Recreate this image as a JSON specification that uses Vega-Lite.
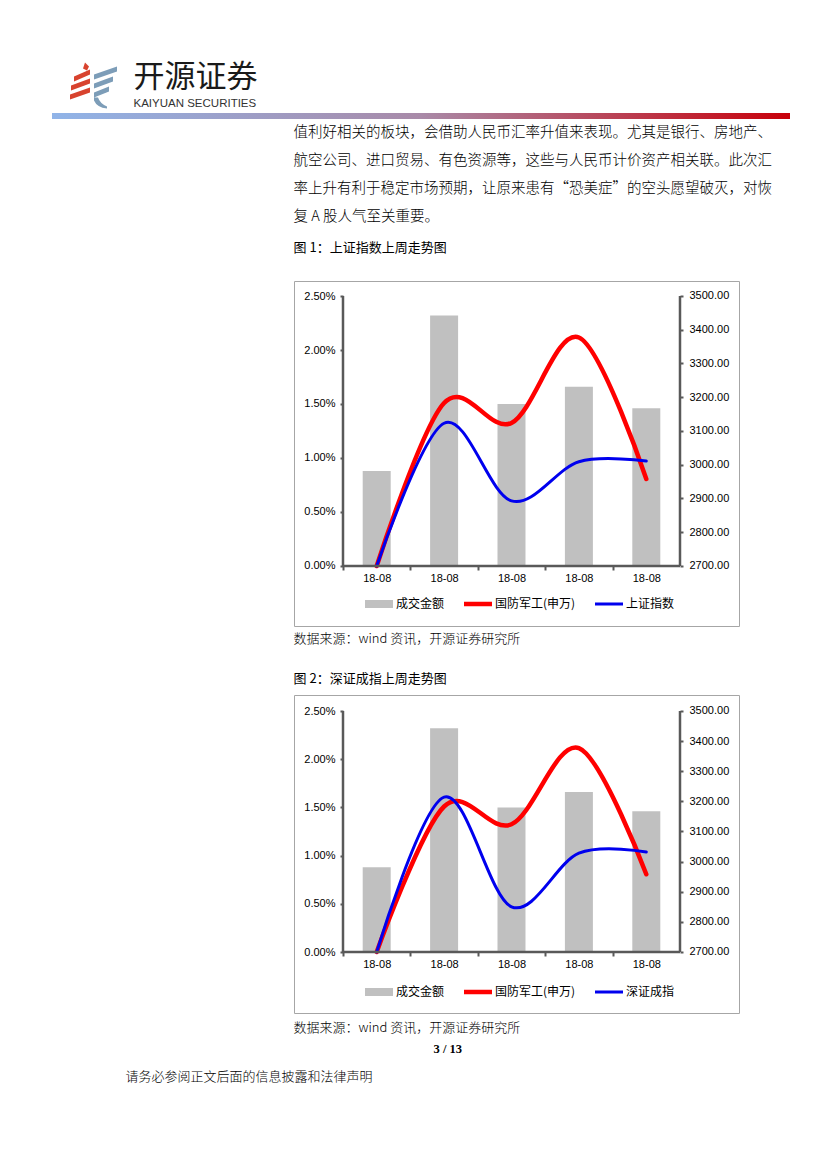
{
  "$schema": "https://vega.github.io/schema/vega-lite/v6.json",
  "background": "white",
  "padding": {"left": 0, "top": 62, "right": 0, "bottom": 0},
  "spacing": 0,
  "config": {"view": {"stroke": null}, "concat": {"spacing": 0}},
  "resolve": {"scale": {"color": "independent"}, "legend": {"color": "independent"}},
  "vconcat": [
    {
      "hconcat": [
        {"width": 70, "height": 51, "data": {"values": []}, "mark": "text"},
        {
          "width": 48, "height": 51, "data": {"values": [{}]},
          "layer": [
            {"mark": {"type": "point", "shape": "M-11,-19L-9,-25L-5,-21L-7,-17Z M-20,-11L-4,-18L-4,-13L-20,-6Z M-23,-2L-4,-9L-4,-4L-23,3Z M-24,7L-4,0L-4,5L-24,12Z", "filled": true, "color": "#d8432e", "size": 4, "opacity": 1, "strokeWidth": 0}, "encoding": {}},
            {"mark": {"type": "point", "shape": "M0,-13L23,-21L23,-16L0,-8Z M0,-4L19,-11L19,-6L0,1Z M0,5L15,-1L15,4L0,10Z M0,10L4,10Q6,16 13,19L13,21Q3,20 0,13Z", "filled": true, "color": "#7d9db8", "size": 4, "opacity": 1, "strokeWidth": 0}, "encoding": {}}
          ]
        },
        {"width": 15, "height": 51, "data": {"values": []}, "mark": "text"},
        {
          "width": 1, "height": 51,
          "data": {"values": [{"t": "开源证券", "k": "cn"}, {"t": "KAIYUAN SECURITIES", "k": "en"}]},
          "layer": [
            {"transform": [{"filter": "datum.k === 'cn'"}], "mark": {"type": "text", "align": "left", "baseline": "middle", "font": "Noto Sans CJK SC", "fontSize": 31, "dy": -9.5, "color": "#1a1a1a"}, "encoding": {"text": {"field": "t"}}},
            {"transform": [{"filter": "datum.k === 'en'"}], "mark": {"type": "text", "align": "left", "baseline": "middle", "font": "Liberation Sans", "fontSize": 11.5, "dy": 16, "color": "#333333"}, "encoding": {"text": {"field": "t"}}}
          ]
        }
      ],
      "spacing": 0
    },
    {
      "hconcat": [
        {"width": 52, "height": 6, "data": {"values": []}, "mark": "text"},
        {"width": 738, "height": 6, "data": {"values": [{}]}, "mark": {"type": "rect", "color": {"gradient": "linear", "x1": 0, "y1": 0, "x2": 1, "y2": 0, "stops": [{"offset": 0, "color": "#90b4e8"}, {"offset": 0.5, "color": "#a98aa8"}, {"offset": 1, "color": "#c8000a"}]}}, "encoding": {}}
      ],
      "spacing": 0
    },
    {
      "hconcat": [
        {"width": 293, "height": 112, "data": {"values": []}, "mark": "text"},
        {
          "width": 1, "height": 112,
          "data": {"values": [
            {"line": 1, "text": "值利好相关的板块，会借助人民币汇率升值来表现。尤其是银行、房地产、"},
            {"line": 2, "text": "航空公司、进口贸易、有色资源等，这些与人民币计价资产相关联。此次汇"},
            {"line": 3, "text": "率上升有利于稳定市场预期，让原来患有“恐美症”的空头愿望破灭，对恢"},
            {"line": 4, "text": "复 A 股人气至关重要。"}
          ]},
          "mark": {"type": "text", "align": "left", "baseline": "middle", "font": "Noto Sans CJK SC", "fontSize": 14.5, "fontWeight": 300, "color": "#000000"},
          "encoding": {"y": {"field": "line", "type": "ordinal", "axis": null}, "text": {"field": "text"}}
        }
      ],
      "spacing": 0
    },
    {
      "hconcat": [
        {"width": 293, "height": 34, "data": {"values": []}, "mark": "text"},
        {"width": 1, "height": 34, "data": {"values": [{"t": "图 1：上证指数上周走势图"}]}, "mark": {"type": "text", "align": "left", "baseline": "middle", "font": "Noto Sans CJK SC", "fontSize": 13, "color": "#000000"}, "encoding": {"text": {"field": "t"}}}
      ],
      "spacing": 0
    },
    {"width": 1, "height": 15, "data": {"values": []}, "mark": "text"},
    {
      "hconcat": [
        {"width": 293, "height": 1, "data": {"values": []}, "mark": "text"},
        {
          "width": 445, "height": 345,
          "view": {"stroke": "#a6a6a6", "strokeWidth": 1, "fill": "white"},
          "data": {"values": [
            {"date": "2018-08-13", "series": "成交金额", "value": 0.0088},
            {"date": "2018-08-14", "series": "成交金额", "value": 0.0232},
            {"date": "2018-08-15", "series": "成交金额", "value": 0.0150},
            {"date": "2018-08-16", "series": "成交金额", "value": 0.0166},
            {"date": "2018-08-17", "series": "成交金额", "value": 0.0146},
            {"date": "2018-08-13", "series": "国防军工(申万)", "value": 2700},
            {"date": "2018-08-14", "series": "国防军工(申万)", "value": 3183},
            {"date": "2018-08-15", "series": "国防军工(申万)", "value": 3124},
            {"date": "2018-08-16", "series": "国防军工(申万)", "value": 3377},
            {"date": "2018-08-17", "series": "国防军工(申万)", "value": 2958},
            {"date": "2018-08-13", "series": "上证指数", "value": 2700},
            {"date": "2018-08-14", "series": "上证指数", "value": 3123},
            {"date": "2018-08-15", "series": "上证指数", "value": 2893},
            {"date": "2018-08-16", "series": "上证指数", "value": 3009},
            {"date": "2018-08-17", "series": "上证指数", "value": 3011}
          ]},
          "resolve": {"scale": {"y": "independent"}},
          "layer": [
            {
              "transform": [{"filter": "datum.series === '成交金额'"}],
              "mark": {"type": "bar", "size": 28},
              "encoding": {
                "x": {"field": "date", "type": "temporal", "scale": {"domain": [1534012387200, 1534582834560], "nice": false, "padding": 0},
                  "axis": {"orient": "bottom", "offset": -60, "values": [1534118400000, 1534204800000, 1534291200000, 1534377600000, 1534464000000], "format": "%y-%m", "tickOffset": -33.7, "labelOffset": 33.7, "domain": false, "grid": false, "ticks": true, "tickSize": 4, "tickWidth": 2, "tickColor": "#595959", "labelPadding": 2, "labelFont": "Liberation Sans", "labelFontSize": 11, "labelColor": "#000000", "labelFlush": false, "labelOverlap": false, "title": null}},
                "y": {"field": "value", "type": "quantitative", "scale": {"domain": [-0.0055556, 0.0263889], "nice": false, "zero": false, "padding": 0},
                  "axis": {"orient": "left", "offset": -49, "values": [0, 0.005, 0.01, 0.015, 0.02, 0.025], "format": ".2%", "domain": false, "grid": false, "tickSize": 3, "tickWidth": 2, "tickColor": "#595959", "labelPadding": 5, "labelFont": "Liberation Sans", "labelFontSize": 11, "labelColor": "#000000", "labelFlush": false, "labelOverlap": false, "title": null}},
                "color": {"field": "series", "type": "nominal", "scale": {"domain": ["成交金额", "国防军工(申万)", "上证指数"], "range": ["#c0c0c0", "#ff0000", "#0000ee"]},
                  "legend": {"title": null, "orient": "none", "legendX": 365, "legendY": 309, "direction": "horizontal", "symbolSize": 784, "labelFont": "Noto Sans CJK SC", "labelFontSize": 12, "labelColor": "#000000", "labelOffset": 3, "columnPadding": 19, "padding": 0,
                    "encode": {"symbols": {"update": {
                      "shape": {"signal": "datum.value === '成交金额' ? 'M-1,-0.29L1,-0.29L1,0.29L-1,0.29Z M0,-1L0,-1 M0,1L0,1' : datum.value === '国防军工(申万)' ? 'M-1,-0.16L1,-0.16L1,0.16L-1,0.16Z M0,-1L0,-1 M0,1L0,1' : 'M-1,-0.11L1,-0.11L1,0.11L-1,0.11Z M0,-1L0,-1 M0,1L0,1'"},
                      "fill": {"signal": "datum.value === '成交金额' ? '#c0c0c0' : datum.value === '国防军工(申万)' ? '#ff0000' : '#0000ee'"},
                      "stroke": {"value": "transparent"}, "strokeWidth": {"value": 0}, "opacity": {"value": 1}, "fillOpacity": {"value": 1}}}}}}
              }
            },
            {
              "layer": [
                {
                  "transform": [{"filter": "datum.series === '国防军工(申万)'"}],
                  "mark": {"type": "line", "interpolate": "cardinal", "strokeWidth": 4.5, "strokeCap": "round"},
                  "encoding": {
                    "x": {"field": "date", "type": "temporal", "scale": {"domain": [1534012387200, 1534582834560], "nice": false, "padding": 0}},
                    "y": {"field": "value", "type": "quantitative", "scale": {"domain": [2522.22, 3544.44], "nice": false, "zero": false, "padding": 0},
                      "axis": {"orient": "right", "offset": -59, "values": [2700, 2800, 2900, 3000, 3100, 3200, 3300, 3400, 3500], "tickCount": 9, "format": ".2f", "domain": false, "grid": false, "tickSize": 3, "tickWidth": 2, "tickColor": "#595959", "labelPadding": 6, "labelFont": "Liberation Sans", "labelFontSize": 11, "labelColor": "#000000", "labelFlush": false, "labelOverlap": false, "title": null}},
                    "color": {"field": "series", "type": "nominal"}
                  }
                },
                {
                  "transform": [{"filter": "datum.series === '上证指数'"}],
                  "mark": {"type": "line", "interpolate": "cardinal", "strokeWidth": 3, "strokeCap": "round"},
                  "encoding": {
                    "x": {"field": "date", "type": "temporal"},
                    "y": {"field": "value", "type": "quantitative",
                      "axis": {"orient": "right", "offset": -59, "values": [2700, 2800, 2900, 3000, 3100, 3200, 3300, 3400, 3500], "tickCount": 9, "format": ".2f", "domain": false, "grid": false, "tickSize": 3, "tickWidth": 2, "tickColor": "#595959", "labelPadding": 6, "labelFont": "Liberation Sans", "labelFontSize": 11, "labelColor": "#000000", "labelFlush": false, "labelOverlap": false, "title": null}},
                    "color": {"field": "series", "type": "nominal"}
                  }
                },
                {
                  "data": {"values": [{}]},
                  "mark": {"type": "rule", "color": "#595959", "strokeWidth": 2.5},
                  "encoding": {"x": {"datum": 1534075200000, "type": "temporal"}, "y": {"datum": 2700, "type": "quantitative"}, "y2": {"datum": 3500}}
                },
                {
                  "data": {"values": [{}]},
                  "mark": {"type": "rule", "color": "#595959", "strokeWidth": 2.5},
                  "encoding": {"x": {"datum": 1534507200000, "type": "temporal"}, "y": {"datum": 2700, "type": "quantitative"}, "y2": {"datum": 3500}}
                },
                {
                  "data": {"values": [{}]},
                  "mark": {"type": "rule", "color": "#595959", "strokeWidth": 2.5},
                  "encoding": {"x": {"datum": 1534075200000, "type": "temporal"}, "x2": {"datum": 1534507200000}, "y": {"datum": 2700, "type": "quantitative"}}
                }
              ]
            }
          ]
        }
      ],
      "spacing": 0
    },
    {
      "hconcat": [
        {"width": 293, "height": 23, "data": {"values": []}, "mark": "text"},
        {"width": 1, "height": 23, "data": {"values": [{"t": "数据来源：wind 资讯，开源证券研究所"}]}, "mark": {"type": "text", "align": "left", "baseline": "middle", "font": "Noto Sans CJK SC", "fontSize": 13, "fontWeight": 300, "color": "#000000"}, "encoding": {"text": {"field": "t"}}}
      ],
      "spacing": 0
    },
    {"width": 1, "height": 13, "data": {"values": []}, "mark": "text"},
    {
      "hconcat": [
        {"width": 293, "height": 31, "data": {"values": []}, "mark": "text"},
        {"width": 1, "height": 31, "data": {"values": [{"t": "图 2：深证成指上周走势图"}]}, "mark": {"type": "text", "align": "left", "baseline": "middle", "font": "Noto Sans CJK SC", "fontSize": 13, "color": "#000000"}, "encoding": {"text": {"field": "t"}}}
      ],
      "spacing": 0
    },
    {
      "hconcat": [
        {"width": 293, "height": 1, "data": {"values": []}, "mark": "text"},
        {
          "width": 445, "height": 318,
          "view": {"stroke": "#a6a6a6", "strokeWidth": 1, "fill": "white"},
          "data": {"values": [
            {"date": "2018-08-13", "series": "成交金额", "value": 0.0088},
            {"date": "2018-08-14", "series": "成交金额", "value": 0.0232},
            {"date": "2018-08-15", "series": "成交金额", "value": 0.0150},
            {"date": "2018-08-16", "series": "成交金额", "value": 0.0166},
            {"date": "2018-08-17", "series": "成交金额", "value": 0.0146},
            {"date": "2018-08-13", "series": "国防军工(申万)", "value": 2700},
            {"date": "2018-08-14", "series": "国防军工(申万)", "value": 3183},
            {"date": "2018-08-15", "series": "国防军工(申万)", "value": 3124},
            {"date": "2018-08-16", "series": "国防军工(申万)", "value": 3377},
            {"date": "2018-08-17", "series": "国防军工(申万)", "value": 2958},
            {"date": "2018-08-13", "series": "深证成指", "value": 2700},
            {"date": "2018-08-14", "series": "深证成指", "value": 3214},
            {"date": "2018-08-15", "series": "深证成指", "value": 2850},
            {"date": "2018-08-16", "series": "深证成指", "value": 3028},
            {"date": "2018-08-17", "series": "深证成指", "value": 3032}
          ]},
          "resolve": {"scale": {"y": "independent"}},
          "layer": [
            {
              "transform": [{"filter": "datum.series === '成交金额'"}],
              "mark": {"type": "bar", "size": 28},
              "encoding": {
                "x": {"field": "date", "type": "temporal", "scale": {"domain": [1534012387200, 1534582834560], "nice": false, "padding": 0},
                  "axis": {"orient": "bottom", "offset": -61, "values": [1534118400000, 1534204800000, 1534291200000, 1534377600000, 1534464000000], "format": "%y-%m", "tickOffset": -33.7, "labelOffset": 33.7, "domain": false, "grid": false, "ticks": true, "tickSize": 4, "tickWidth": 2, "tickColor": "#595959", "labelPadding": 2, "labelFont": "Liberation Sans", "labelFontSize": 11, "labelColor": "#000000", "labelFlush": false, "labelOverlap": false, "title": null}},
                "y": {"field": "value", "type": "quantitative", "scale": {"domain": [-0.0063278, 0.0266598], "nice": false, "zero": false, "padding": 0},
                  "axis": {"orient": "left", "offset": -49, "values": [0, 0.005, 0.01, 0.015, 0.02, 0.025], "format": ".2%", "domain": false, "grid": false, "tickSize": 3, "tickWidth": 2, "tickColor": "#595959", "labelPadding": 5, "labelFont": "Liberation Sans", "labelFontSize": 11, "labelColor": "#000000", "labelFlush": false, "labelOverlap": false, "title": null}},
                "color": {"field": "series", "type": "nominal", "scale": {"domain": ["成交金额", "国防军工(申万)", "深证成指"], "range": ["#c0c0c0", "#ff0000", "#0000ee"]},
                  "legend": {"title": null, "orient": "none", "legendX": 365, "legendY": 283, "direction": "horizontal", "symbolSize": 784, "labelFont": "Noto Sans CJK SC", "labelFontSize": 12, "labelColor": "#000000", "labelOffset": 3, "columnPadding": 19, "padding": 0,
                    "encode": {"symbols": {"update": {
                      "shape": {"signal": "datum.value === '成交金额' ? 'M-1,-0.29L1,-0.29L1,0.29L-1,0.29Z M0,-1L0,-1 M0,1L0,1' : datum.value === '国防军工(申万)' ? 'M-1,-0.16L1,-0.16L1,0.16L-1,0.16Z M0,-1L0,-1 M0,1L0,1' : 'M-1,-0.11L1,-0.11L1,0.11L-1,0.11Z M0,-1L0,-1 M0,1L0,1'"},
                      "fill": {"signal": "datum.value === '成交金额' ? '#c0c0c0' : datum.value === '国防军工(申万)' ? '#ff0000' : '#0000ee'"},
                      "stroke": {"value": "transparent"}, "strokeWidth": {"value": 0}, "opacity": {"value": 1}, "fillOpacity": {"value": 1}}}}}}
              }
            },
            {
              "layer": [
                {
                  "transform": [{"filter": "datum.series === '国防军工(申万)'"}],
                  "mark": {"type": "line", "interpolate": "cardinal", "strokeWidth": 4.5, "strokeCap": "round"},
                  "encoding": {
                    "x": {"field": "date", "type": "temporal", "scale": {"domain": [1534012387200, 1534582834560], "nice": false, "padding": 0}},
                    "y": {"field": "value", "type": "quantitative", "scale": {"domain": [2497.51, 3553.11], "nice": false, "zero": false, "padding": 0},
                      "axis": {"orient": "right", "offset": -59, "values": [2700, 2800, 2900, 3000, 3100, 3200, 3300, 3400, 3500], "tickCount": 9, "format": ".2f", "domain": false, "grid": false, "tickSize": 3, "tickWidth": 2, "tickColor": "#595959", "labelPadding": 6, "labelFont": "Liberation Sans", "labelFontSize": 11, "labelColor": "#000000", "labelFlush": false, "labelOverlap": false, "title": null}},
                    "color": {"field": "series", "type": "nominal"}
                  }
                },
                {
                  "transform": [{"filter": "datum.series === '深证成指'"}],
                  "mark": {"type": "line", "interpolate": "cardinal", "strokeWidth": 3, "strokeCap": "round"},
                  "encoding": {
                    "x": {"field": "date", "type": "temporal"},
                    "y": {"field": "value", "type": "quantitative",
                      "axis": {"orient": "right", "offset": -59, "values": [2700, 2800, 2900, 3000, 3100, 3200, 3300, 3400, 3500], "tickCount": 9, "format": ".2f", "domain": false, "grid": false, "tickSize": 3, "tickWidth": 2, "tickColor": "#595959", "labelPadding": 6, "labelFont": "Liberation Sans", "labelFontSize": 11, "labelColor": "#000000", "labelFlush": false, "labelOverlap": false, "title": null}},
                    "color": {"field": "series", "type": "nominal"}
                  }
                },
                {
                  "data": {"values": [{}]},
                  "mark": {"type": "rule", "color": "#595959", "strokeWidth": 2.5},
                  "encoding": {"x": {"datum": 1534075200000, "type": "temporal"}, "y": {"datum": 2700, "type": "quantitative"}, "y2": {"datum": 3500}}
                },
                {
                  "data": {"values": [{}]},
                  "mark": {"type": "rule", "color": "#595959", "strokeWidth": 2.5},
                  "encoding": {"x": {"datum": 1534507200000, "type": "temporal"}, "y": {"datum": 2700, "type": "quantitative"}, "y2": {"datum": 3500}}
                },
                {
                  "data": {"values": [{}]},
                  "mark": {"type": "rule", "color": "#595959", "strokeWidth": 2.5},
                  "encoding": {"x": {"datum": 1534075200000, "type": "temporal"}, "x2": {"datum": 1534507200000}, "y": {"datum": 2700, "type": "quantitative"}}
                }
              ]
            }
          ]
        }
      ],
      "spacing": 0
    },
    {
      "hconcat": [
        {"width": 293, "height": 27, "data": {"values": []}, "mark": "text"},
        {"width": 1, "height": 27, "data": {"values": [{"t": "数据来源：wind 资讯，开源证券研究所"}]}, "mark": {"type": "text", "align": "left", "baseline": "middle", "font": "Noto Sans CJK SC", "fontSize": 13, "fontWeight": 300, "color": "#000000"}, "encoding": {"text": {"field": "t"}}}
      ],
      "spacing": 0
    },
    {
      "hconcat": [
        {"width": 433, "height": 16, "data": {"values": []}, "mark": "text"},
        {"width": 1, "height": 16, "data": {"values": [{"t": "3 / 13"}]}, "mark": {"type": "text", "align": "left", "baseline": "middle", "font": "Liberation Serif", "fontSize": 12.5, "fontWeight": "bold", "color": "#000000"}, "encoding": {"text": {"field": "t"}}}
      ],
      "spacing": 0
    },
    {
      "hconcat": [
        {"width": 125, "height": 40, "data": {"values": []}, "mark": "text"},
        {"width": 1, "height": 40, "data": {"values": [{"t": "请务必参阅正文后面的信息披露和法律声明"}]}, "mark": {"type": "text", "align": "left", "baseline": "middle", "font": "Noto Sans CJK SC", "fontSize": 13, "fontWeight": 300, "color": "#000000"}, "encoding": {"text": {"field": "t"}}}
      ],
      "spacing": 0
    },
    {"width": 827, "height": 72, "data": {"values": []}, "mark": "text"}
  ]
}
